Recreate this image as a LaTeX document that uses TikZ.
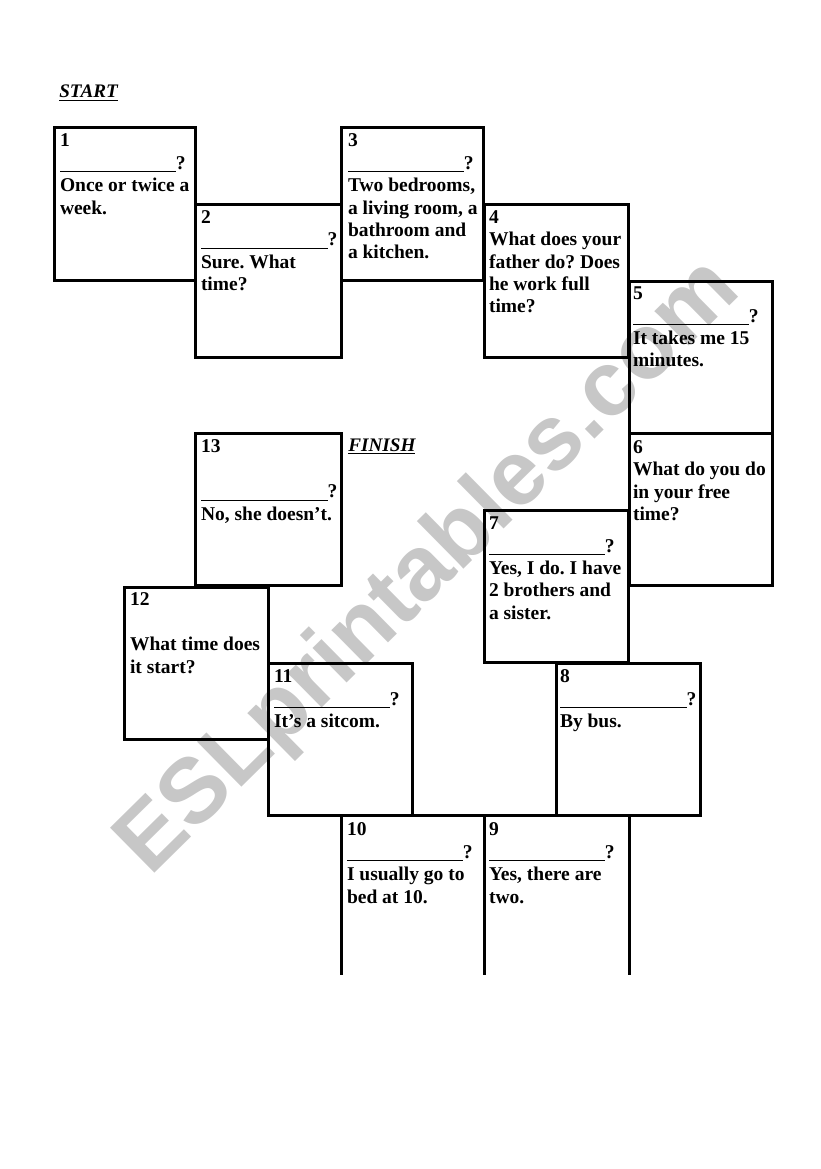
\documentclass[tikz,border=0pt]{standalone}
\usepackage{fontspec}
\setmainfont{Liberation Serif}
\newfontfamily\stampfont{Liberation Sans}
\frenchspacing

\newcommand{\blankline}[1]{\rule[-1.7pt]{#1pt}{0.55pt}}
\newcommand{\shortblank}{\blankline{66}?}
\newcommand{\longblank}{\blankline{72}?}

\tikzset{
    cell/.style={rectangle, draw, line width=0.06cm, inner sep=0pt, outer sep=0pt, anchor=north west, minimum height=3.05cm},
    cardtext/.style={inner sep=0pt, outer sep=0pt, anchor=north west, align=left, font=\bfseries\fontsize{11.1}{12.75}\selectfont},
    stamp/.style={inner sep=0pt, anchor=base west, rotate=44.6, text=black!22, font=\stampfont\bfseries\fontsize{52.3}{60}\selectfont},
    sign/.style={inner sep=0pt, anchor=base west, font=\bfseries\itshape\fontsize{10.9}{12.75}\selectfont},
    rim/.style={line width=0.06cm},
}

\begin{document}
\begin{tikzpicture}[x=0.02cm, y=-0.02cm]
    \useasboundingbox (0,0) rectangle (821,1169);

    \node[stamp] (watermark) at (150,878) {ESLprintables.com};

    \node[sign] (start) at (59,98) {\underline{START}};
    \node[sign] (finish) at (348,451) {\underline{FINISH}};

    \node[cell, minimum width=2.83cm] (c1) at (54,128) {};
    \node[cell, minimum width=2.92cm] (c2) at (195.5,204.7) {};
    \node[cell, minimum width=2.86cm] (c3) at (341,128) {};
    \node[cell, minimum width=2.90cm] (c4) at (484,204.7) {};
    \node[cell, minimum width=2.88cm] (c5) at (629,281) {};
    \node[cell, minimum width=2.88cm] (c6) at (629,433.5) {};
    \node[cell, minimum width=2.90cm] (c7) at (484,510.5) {};
    \node[cell, minimum width=2.90cm] (c8) at (556,663.5) {};
    \node[cell, minimum width=2.90cm] (c11) at (268,663.5) {};
    \node[cell, minimum width=2.88cm] (c12) at (124.5,587) {};
    \node[cell, minimum width=2.92cm] (c13) at (195.5,433.5) {};

    \coordinate (top10) at (341,816);
    \coordinate (top9) at (484,816);
    \coordinate (top8) at (629,816);
    \coordinate (end10) at (341,975);
    \coordinate (end9) at (484,975);
    \coordinate (end8) at (629,975);

    \draw[rim] (c11.south east) -- (c8.south west);
    \draw[rim] (top10) -- (end10);
    \draw[rim] (top9) -- (end9);
    \draw[rim] (top8) -- (end8);

    \node[cardtext] (t1) at (60,134) {1\\\shortblank\\Once or twice a\\week.};
    \node[cardtext] (t2) at (201,210.5) {2\\\longblank\\Sure. What\\time?};
    \node[cardtext] (t3) at (348,134) {3\\\shortblank\\Two bedrooms,\\a living room, a\\bathroom and\\a kitchen.};
    \node[cardtext] (t4) at (489,210.5) {4\\What does your\\father do? Does\\he work full\\time?};
    \node[cardtext] (t5) at (633,287) {5\\\shortblank\\It takes me 15\\minutes.};
    \node[cardtext] (t6) at (633,440.5) {6\\What do you do\\in your free\\time?};
    \node[cardtext] (t7) at (489,517) {7\\\shortblank\\Yes, I do. I have\\2 brothers and\\a sister.};
    \node[cardtext] (t8) at (560,670) {8\\\longblank\\By bus.};
    \node[cardtext] (t9) at (489,823) {9\\\shortblank\\Yes, there are\\two.};
    \node[cardtext] (t10) at (347,823) {10\\\shortblank\\I usually go to\\bed at 10.};
    \node[cardtext] (t11) at (274,670) {11\\\shortblank\\It’s a sitcom.};
    \node[cardtext] (t12) at (130,593) {12\\[12.75pt]What time does\\it start?};
    \node[cardtext] (t13) at (201,440) {13\\[12.75pt]\longblank\\No, she doesn’t.};
\end{tikzpicture}
\end{document}
